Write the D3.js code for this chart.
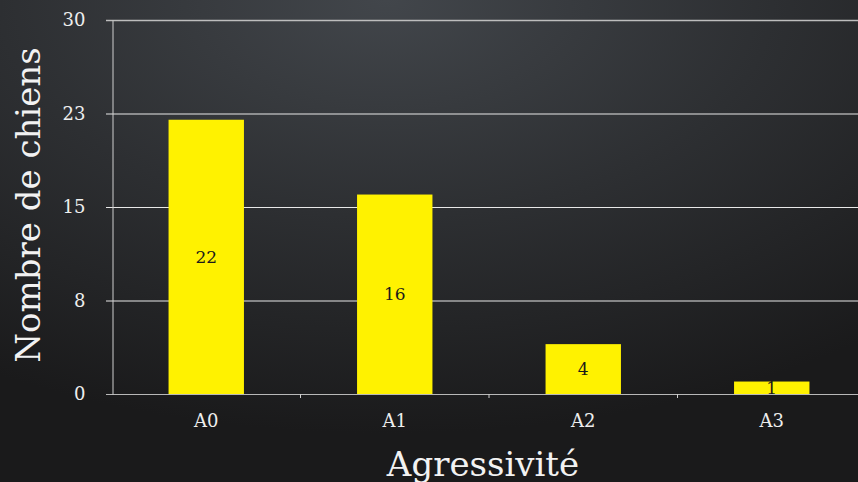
<!DOCTYPE html>
<html><head><meta charset="utf-8">
<script src="https://cdn.jsdelivr.net/npm/d3@7"></script>
<style>
html,body{margin:0;padding:0;background:#222;}
svg{display:block;}
text{font-family:"DejaVu Serif","Liberation Serif",serif;}
</style></head>
<body><svg id="c" width="858" height="482"></svg>
<script>
const categories = ["A0","A1","A2","A3"];
const values = [22, 16, 4, 1];
const yTicks = [0, 7.5, 15, 22.5, 30];
const yTitle = "Nombre de chiens";
const xTitle = "Agressivité";

const W = 858, H = 482;
const m = {left:112, top:20, bottom:394, right:866};
const svg = d3.select("#c");
const defs = svg.append("defs");
const g1 = defs.append("radialGradient").attr("id","bg").attr("cx","0.45").attr("cy","0").attr("r","0.9");
g1.append("stop").attr("offset","0").attr("stop-color","#42464b");
g1.append("stop").attr("offset","0.5").attr("stop-color","#2d2f32");
g1.append("stop").attr("offset","1").attr("stop-color","#1a1a1b");
svg.append("rect").attr("width",W).attr("height",H).attr("fill","url(#bg)");

const x = d3.scaleBand().domain(categories).range([m.left, m.right]).paddingInner(0.6).paddingOuter(0.3);
const y = d3.scaleLinear().domain([0,30]).range([m.bottom, m.top]);

// gridlines
svg.append("g").selectAll("line").data(yTicks).join("line")
  .attr("x1", m.left-6).attr("x2", W)
  .attr("y1", d=>y(d)+0.5).attr("y2", d=>y(d)+0.5)
  .attr("stroke", d=> d===0 ? "#b8b8b8" : (d===30 ? "#bdbdbd" : "#e8e8e8"))
  .attr("stroke-width", d=> d===30 ? 1.5 : 1);

// y axis
const yAxis = d3.axisLeft(y).tickValues(yTicks).tickFormat(d=>d3.format(".0f")(Math.round(d))).tickSize(0).tickPadding(27);
const ya = svg.append("g").attr("transform",`translate(${m.left+0.5},0)`).call(yAxis);
ya.select(".domain").attr("stroke","#cfcfcf");
ya.selectAll("text").attr("fill","#eeeeee").attr("font-size",18);

// x axis
const xAxis = d3.axisBottom(x).tickSize(0).tickPadding(20);
const xa = svg.append("g").attr("transform",`translate(0,${m.bottom})`).call(xAxis);
xa.select(".domain").remove();
xa.selectAll("text").attr("fill","#eeeeee").attr("font-size",18);
// band boundary ticks
const bounds = categories.slice(1).map(c => x(c) - x.step()*x.paddingInner()/2);
svg.append("g").selectAll("line").data(bounds).join("line")
  .attr("x1",d=>d).attr("x2",d=>d).attr("y1",m.bottom).attr("y2",m.bottom+4)
  .attr("stroke","#cfcfcf");

// bars
svg.append("g").selectAll("rect").data(values).join("rect")
  .attr("x",(d,i)=>x(categories[i])).attr("width",x.bandwidth())
  .attr("y",d=>y(d)).attr("height",d=>y(0)-y(d))
  .attr("fill","#fff200");
svg.append("g").selectAll("text").data(values).join("text")
  .attr("x",(d,i)=>x(categories[i])+x.bandwidth()/2)
  .attr("y",d=>(y(d)+y(0))/2).attr("dy","0.35em")
  .attr("text-anchor","middle").attr("font-size",17).attr("fill","#1a1a1a")
  .text(d=>d);

// titles
svg.append("text").attr("transform",`translate(40,205) rotate(-90)`)
  .attr("text-anchor","middle").attr("font-size",34).attr("fill","#f2f2f2").text(yTitle);
svg.append("text").attr("x",483).attr("y",476)
  .attr("text-anchor","middle").attr("font-size",34).attr("fill","#f2f2f2").text(xTitle);
</script></body></html>
